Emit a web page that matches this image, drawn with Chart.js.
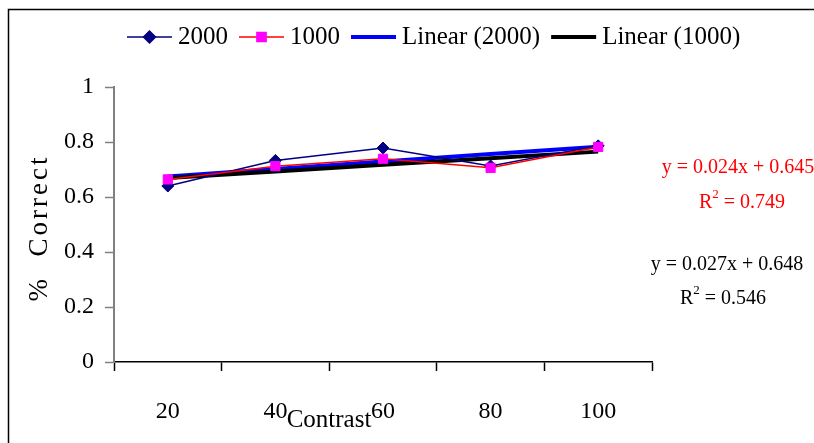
<!DOCTYPE html>
<html>
<head>
<meta charset="utf-8">
<script src="https://cdn.jsdelivr.net/npm/chart.js@4.4.0/dist/chart.umd.min.js"></script>
<style>
  html, body { margin: 0; padding: 0; background: #ffffff; }
  #wrap { width: 814px; height: 443px; position: relative; }
</style>
</head>
<body>
<div id="wrap"><canvas id="c" width="814" height="443"></canvas></div>
<script>
// Proportion correct by contrast level, for two conditions
const categories = ['20', '40', '60', '80', '100'];
const values2000 = [0.640, 0.733, 0.778, 0.713, 0.786];
const values1000 = [0.664, 0.712, 0.739, 0.706, 0.782];
const yTicks = [0, 0.2, 0.4, 0.6, 0.8, 1];

// Linear trend fits (x = category index 1..5)
const trend2000 = { slope: 0.027, intercept: 0.648, r2: 0.546 };
const trend1000 = { slope: 0.024, intercept: 0.645, r2: 0.749 };

const trendLine = t => categories.map((_, i) => t.intercept + t.slope * (i + 1));

const FONT = '"Liberation Serif", "Times New Roman", serif';
Chart.defaults.font.family = FONT;
Chart.defaults.color = '#000';

const datasets = [
  { label: '2000', data: values2000, borderColor: '#000080', backgroundColor: '#000080',
    borderWidth: 1.5, pointStyle: 'rectRot', pointRadius: 6, pointBorderWidth: 1,
    pointBackgroundColor: '#000080', pointBorderColor: '#000080', order: 1 },
  { label: '1000', data: values1000, borderColor: '#FF0000', backgroundColor: '#FF00FF',
    borderWidth: 1.5, pointStyle: 'rect', pointRadius: 6.5, pointBorderWidth: 1,
    pointBackgroundColor: '#FF00FF', pointBorderColor: '#FF00FF', order: 0 },
  { label: 'Linear (2000)', data: trendLine(trend2000), borderColor: '#0000FF',
    borderWidth: 4, pointRadius: 0, order: 3 },
  { label: 'Linear (1000)', data: trendLine(trend1000), borderColor: '#000000',
    borderWidth: 4, pointRadius: 0, order: 2 }
];

// Legend row, frame, axis titles and fit equations
const decorations = {
  id: 'decorations',
  afterDraw(chart) {
    const ctx = chart.ctx;
    ctx.save();

    // outer frame
    ctx.strokeStyle = '#000';
    ctx.lineWidth = 1.5;
    ctx.beginPath();
    ctx.moveTo(8.5, 443);
    ctx.lineTo(8.5, 9.5);
    ctx.lineTo(814, 9.5);
    ctx.stroke();

    // legend
    ctx.font = '25px ' + FONT;
    ctx.textBaseline = 'middle';
    ctx.textAlign = 'left';
    let x = 127;
    const ly = 37;
    chart.data.datasets.forEach(ds => {
      const iconW = 45;
      ctx.strokeStyle = ds.borderColor;
      ctx.lineWidth = ds.borderWidth;
      ctx.beginPath();
      ctx.moveTo(x, ly);
      ctx.lineTo(x + iconW, ly);
      ctx.stroke();
      if (ds.pointRadius > 0) {
        ctx.fillStyle = ds.pointBackgroundColor;
        ctx.strokeStyle = ds.pointBorderColor;
        Chart.helpers.drawPoint(ctx, { pointStyle: ds.pointStyle, radius: ds.pointRadius, borderWidth: 1, rotation: 0 }, x + iconW / 2, ly);
      }
      ctx.fillStyle = '#000';
      ctx.fillText(ds.label, x + iconW + 6, ly);
      x += iconW + 6 + ctx.measureText(ds.label).width + 11;
    });

    // y axis title
    ctx.save();
    ctx.translate(40, 228);
    ctx.rotate(-Math.PI / 2);
    ctx.font = '27px ' + FONT;
    ctx.letterSpacing = '3px';
    ctx.textAlign = 'center';
    ctx.textBaseline = 'middle';
    ctx.fillStyle = '#000';
    ctx.fillText('%  Correct', 0, 0);
    ctx.restore();

    // x axis title
    ctx.font = '25px ' + FONT;
    ctx.textAlign = 'center';
    ctx.textBaseline = 'middle';
    ctx.fillStyle = '#000';
    ctx.fillText('Contrast', 329, 420);

    // fit equations
    const eq = t => 'y = ' + t.slope.toFixed(3) + 'x + ' + t.intercept.toFixed(3);
    const drawR2 = (t, cx, cy, color) => {
      ctx.fillStyle = color;
      const big = '20px ' + FONT, small = '13px ' + FONT;
      ctx.font = big;
      const wR = ctx.measureText('R').width;
      const rest = ' = ' + t.r2.toFixed(3);
      const wRest = ctx.measureText(rest).width;
      ctx.font = small;
      const w2 = ctx.measureText('2').width;
      const total = wR + w2 + wRest;
      const sx = cx - total / 2;
      ctx.textAlign = 'left';
      ctx.font = big;
      ctx.fillText('R', sx, cy);
      ctx.font = small;
      ctx.fillText('2', sx + wR, cy - 8);
      ctx.font = big;
      ctx.fillText(rest, sx + wR + w2, cy);
    };
    ctx.font = '20px ' + FONT;
    ctx.textAlign = 'center';
    ctx.fillStyle = '#FF0000';
    ctx.fillText(eq(trend1000), 738, 168);
    drawR2(trend1000, 742, 203, '#FF0000');
    ctx.font = '20px ' + FONT;
    ctx.textAlign = 'center';
    ctx.fillStyle = '#000';
    ctx.fillText(eq(trend2000), 727, 265);
    drawR2(trend2000, 723, 299, '#000');

    ctx.restore();
  }
};

new Chart(document.getElementById('c'), {
  type: 'line',
  data: { labels: categories, datasets },
  options: {
    responsive: false,
    animation: false,
    devicePixelRatio: 1,
    layout: { padding: { top: 87, right: 162, left: 0, bottom: 0 } },
    plugins: { legend: { display: false }, tooltip: { enabled: false } },
    scales: {
      x: {
        type: 'category',
        offset: true,
        grid: { drawOnChartArea: false, drawTicks: true, offset: true,
                tickLength: 9, tickColor: '#000', tickWidth: 1.5 },
        border: { display: true, color: '#000', width: 1.5 },
        ticks: { font: { size: 24 }, color: '#000', padding: 26, maxRotation: 0 },
        afterFit: s => { s.height = 81; }
      },
      y: {
        min: 0, max: 1,
        afterBuildTicks: s => { s.ticks = yTicks.map(v => ({ value: v })); },
        grid: { drawOnChartArea: false, drawTicks: true,
                tickLength: 9, tickColor: '#808080', tickWidth: 1.5 },
        border: { display: true, color: '#808080', width: 2 },
        ticks: { font: { size: 24 }, color: '#000', padding: 11,
                 callback: v => String(v) },
        afterFit: s => { s.width = 114; }
      }
    }
  },
  plugins: [decorations]
});
</script>
</body>
</html>
